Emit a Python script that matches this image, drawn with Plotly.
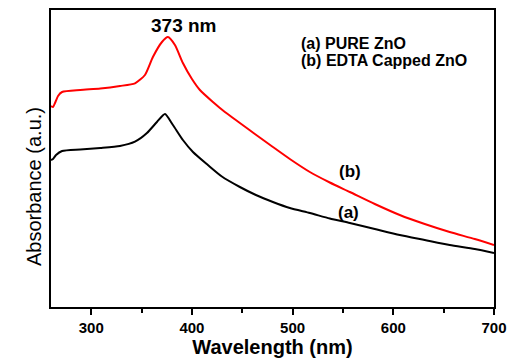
import plotly.graph_objects as go

# Wavelength (nm) and absorbance (a.u., arbitrary scale)
# (b) EDTA capped ZnO
wl_b = [260, 262, 264, 267, 271, 289, 309, 328.5, 343.4, 353.3, 361.2, 370.2,
        376.1, 383.1, 391, 400, 407.9, 420.8, 432.7, 447.6, 462.5, 480.4,
        497.2, 517.1, 536.9, 556.8, 581.6, 606.4, 631.2, 656, 680.9, 700]
abs_b = [201, 200, 204, 211, 215, 217, 218.5, 221, 223.7, 232, 250, 265,
         270, 262, 244, 228, 217, 205, 195, 184, 173, 160,
         148, 135, 124.5, 115, 103, 92, 83, 75, 68, 62]

# (a) pure ZnO
wl_a = [260, 262, 265, 271, 289, 309, 328.5, 343.4, 355.3, 365.2, 373.2,
        381.1, 391, 401, 415.8, 429.7, 447.6, 463.5, 480.4, 497.2, 517.1,
        536.9, 556.8, 581.6, 606.4, 631.2, 656, 680.9, 700]
abs_a = [147, 148, 152, 156, 157.5, 159, 161, 165.3, 174, 185, 193,
         182, 167, 155, 142, 130.5, 120, 112, 105, 99, 94,
         88.5, 84, 78, 72, 67, 62, 58, 54]

x_ticks = [300, 400, 500, 600, 700]
x_minor = [350, 450, 550, 650]
FONT = "Liberation Sans, Arial, sans-serif"

fig = go.Figure()
fig.add_trace(go.Scatter(x=wl_a, y=abs_a, mode="lines",
                         line=dict(color="black", width=2, shape="spline", smoothing=0.6),
                         showlegend=False))
fig.add_trace(go.Scatter(x=wl_b, y=abs_b, mode="lines",
                         line=dict(color="#ff0000", width=2, shape="spline", smoothing=0.6),
                         showlegend=False))

fig.update_layout(
    width=509, height=360,
    margin=dict(l=51, r=15, t=10, b=53),
    paper_bgcolor="white", plot_bgcolor="white",
    font=dict(family=FONT, color="black"),
    xaxis=dict(range=[260, 700], tickvals=x_ticks, ticks="outside", ticklen=6,
               tickwidth=2, tickcolor="black", automargin=False,
               minor=dict(tickvals=x_minor, ticks="outside", ticklen=4,
                          tickwidth=2, tickcolor="black"),
               showline=True, linecolor="black", linewidth=2, mirror=True,
               showgrid=False, zeroline=False,
               tickfont=dict(size=15, family=FONT, weight="bold"),
               title=dict(text="<b>Wavelength (nm)</b>", font=dict(size=20), standoff=4)),
    yaxis=dict(range=[0, 297], showticklabels=False, ticks="", automargin=False,
               showline=True, linecolor="black", linewidth=2, mirror=True,
               showgrid=False, zeroline=False),
)

fig.add_annotation(x=-0.068, y=0.407, xref="paper", yref="paper", text="Absorbance (a.u.)",
                   textangle=-90, showarrow=False, font=dict(size=20))
fig.add_annotation(x=392, y=282, xref="x", yref="y", text="<b>373 nm</b>",
                   showarrow=False, font=dict(size=19))
fig.add_annotation(x=506, y=264, xref="x", yref="y", text="<b>(a) PURE ZnO</b>",
                   showarrow=False, font=dict(size=16), xanchor="left")
fig.add_annotation(x=506, y=247, xref="x", yref="y", text="<b>(b) EDTA Capped ZnO</b>",
                   showarrow=False, font=dict(size=16), xanchor="left")
fig.add_annotation(x=556.8, y=136, xref="x", yref="y", text="<b>(b)</b>",
                   showarrow=False, font=dict(size=17))
fig.add_annotation(x=555.8, y=95, xref="x", yref="y", text="<b>(a)</b>",
                   showarrow=False, font=dict(size=17))

# remove the default page margin so the 509x360 figure fills the window exactly
fig.write_html("out.html", config={"displayModeBar": False},
               post_script="document.body.style.margin='0';document.body.style.overflow='hidden';")
